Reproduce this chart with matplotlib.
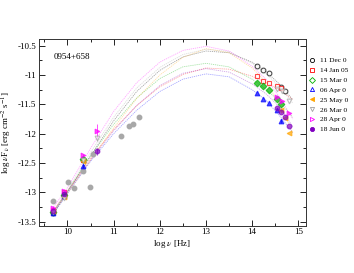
import matplotlib
matplotlib.use("Agg")
import matplotlib.pyplot as plt
from matplotlib.ticker import MultipleLocator

plt.rcParams['font.family'] = ['Liberation Serif', 'DejaVu Serif']
plt.rcParams['mathtext.fontset'] = 'stix'

# ---- data ----
# legend labels as visible in the reference (cut at the figure edge there)
labels = ["11 Dec 0", "14 Jan 05", "15 Mar 0", "06 Apr 0",
          "25 May 0", "26 Mar 0", "28 Apr 0", "18 Jun 0"]
colors = ["#000000", "#ff0000", "#00b000", "#0000ff",
          "#ffa500", "#a0a0a0", "#ff00ff", "#8000c0"]
markers = ["o", "s", "D", "^", "<", "v", ">", "o"]
fills = ["none", "none", "light", "full", "full", "none", "full", "full"]

obs_x = [
    [9.69, 9.92, 10.34, 14.11, 14.24, 14.36, 14.63, 14.71],
    [9.69, 9.92, 10.34, 14.11, 14.24, 14.36, 14.545, 14.63],
    [9.69, 9.92, 10.34, 14.11, 14.24, 14.36, 14.545, 14.63],
    [9.69, 9.92, 10.34, 14.11, 14.24, 14.36, 14.545, 14.63],
    [9.69, 9.92, 10.34, 14.63, 14.71, 14.80],
    [9.69, 9.92, 10.34, 10.63, 14.545, 14.64, 14.80],
    [9.69, 9.92, 10.34, 10.63, 14.545, 14.64, 14.79],
    [9.69, 9.92, 10.63, 14.545, 14.63, 14.71, 14.80],
]
obs_y = [
    [-13.36, -13.06, -12.44, -10.84, -10.915, -10.966, -11.20, -11.28],
    [-13.30, -13.00, -12.44, -11.01, -11.10, -11.13, -11.19, -11.22],
    [-13.33, -13.05, -12.43, -11.13, -11.19, -11.25, -11.41, -11.49],
    [-13.35, -13.06, -12.55, -11.31, -11.41, -11.48, -11.60, -11.78],
    [-13.32, -13.08, -12.46, -11.60, -11.74, -11.98],
    [-13.34, -13.10, -12.45, -12.08, -11.23, -11.27, -11.45],
    [-13.26, -12.98, -12.37, -11.96, -11.37, -11.45, -11.65],
    [-13.32, -13.02, -12.30, -11.56, -11.625, -11.71, -11.87],
]
obs_err = [
    [0.02, 0.02, 0.02, 0.0, 0.0, 0.0, 0.0, 0.0],
    [0.02, 0.02, 0.02, 0.0, 0.0, 0.0, 0.0, 0.0],
    [0.02, 0.02, 0.02, 0.0, 0.0, 0.0, 0.0, 0.0],
    [0.02, 0.02, 0.03, 0.0, 0.0, 0.0, 0.0, 0.03],
    [0.02, 0.02, 0.02, 0.04, 0.0, 0.0],
    [0.02, 0.02, 0.02, 0.04, 0.0, 0.0, 0.0],
    [0.03, 0.03, 0.03, 0.12, 0.0, 0.0, 0.0],
    [0.03, 0.03, 0.06, 0.0, 0.0, 0.0, 0.0],
]

# model curves
curve_x = [9.7, 10.0, 10.5, 11.0, 11.5, 12.0, 12.5, 13.0, 13.5, 14.0, 14.3, 14.6, 14.88]
curve_y = [
    [-13.36, -13.00, -12.38, -11.78, -11.28, -10.92, -10.69, -10.59, -10.62, -10.78, -10.94, -11.16, -11.42],
    [-13.30, -12.98, -12.42, -11.93, -11.52, -11.20, -10.99, -10.88, -10.90, -11.02, -11.13, -11.25, -11.42],
    [-13.32, -12.98, -12.38, -11.84, -11.39, -11.06, -10.86, -10.80, -10.86, -11.07, -11.24, -11.46, -11.72],
    [-13.36, -13.02, -12.47, -12.00, -11.60, -11.28, -11.07, -10.98, -11.03, -11.25, -11.43, -11.70, -11.98],
    [-13.33, -13.02, -12.45, -11.90, -11.40, -11.00, -10.70, -10.55, -10.62, -10.88, -11.12, -11.50, -11.98],
    [-13.34, -12.97, -12.32, -11.72, -11.22, -10.87, -10.65, -10.56, -10.60, -10.80, -10.98, -11.20, -11.48],
    [-13.25, -12.92, -12.25, -11.62, -11.13, -10.78, -10.58, -10.51, -10.59, -10.85, -11.07, -11.38, -11.75],
    [-13.33, -12.99, -12.45, -11.95, -11.52, -11.18, -10.97, -10.89, -10.95, -11.15, -11.32, -11.55, -11.88],
]

# archival points (grey)
arch_x = [9.68, 10.02, 10.145, 10.34, 10.49, 10.56, 11.16, 11.34, 11.43, 11.56]
arch_y = [-13.15, -12.83, -12.92, -12.64, -12.91, -12.35, -12.04, -11.875, -11.835, -11.71]

xticks = [10, 11, 12, 13, 14, 15]
yticks = [-10.5, -11, -11.5, -12, -12.5, -13, -13.5]

# ---- plot ----
fig = plt.figure(figsize=(3.54, 2.73), dpi=100)
ax = fig.add_axes([0.111, 0.1733, 0.7526, 0.6837])

for i in range(len(labels)):
    ax.plot(curve_x, curve_y[i], color=colors[i], lw=0.6, ls=(0, (1.5, 1.0)), alpha=0.35, zorder=1)

ax.plot(arch_x, arch_y, 'o', color='#a8a8a8', ms=3.2, mec='#a8a8a8', zorder=2)

handles = []
for i in range(len(labels)):
    c = colors[i]
    fc = 'white' if fills[i] == "none" else c
    ax.errorbar(obs_x[i], obs_y[i], yerr=obs_err[i], fmt='none', ecolor=c, elinewidth=0.7, alpha=0.7, zorder=3)
    ax.plot(obs_x[i], obs_y[i], ls='none', marker=markers[i], ms=3.4, mfc=fc, mec=c, mew=0.8, alpha=0.7, zorder=4)
    h, = ax.plot([], [], ls='none', marker=markers[i], ms=3.0, mfc=(c if i in (4, 7) else 'none'), mec=c, mew=0.6)
    handles.append(h)

ax.set_xlim(9.39, 15.16)
ax.set_ylim(-13.568, -10.386)
ax.set_xticks(xticks)
ax.set_xticklabels([str(v) for v in xticks])
ax.set_yticks(yticks)
ax.set_yticklabels([("%g" % v) for v in yticks])
ax.xaxis.set_minor_locator(MultipleLocator(0.5))
ax.yaxis.set_minor_locator(MultipleLocator(0.25))
ax.tick_params(which='both', direction='in', top=True, right=True, labelsize=6.5, width=0.6, pad=2)
ax.tick_params(which='major', length=4)
ax.tick_params(which='minor', length=2)
for s in ax.spines.values():
    s.set_linewidth(0.7)
    s.set_color('#333333')

ax.set_xlabel(r"log $\nu$ [Hz]", fontsize=6.5, labelpad=1)
ax.set_ylabel(r"log $\nu$F$_\nu$ [erg cm$^{-2}$ s$^{-1}$]", fontsize=6.5, labelpad=3)
ax.text(0.055, 0.905, "0954+658", transform=ax.transAxes, fontsize=6.5, va='center', ha='left')

fig.legend(handles, labels, loc='upper left', bbox_to_anchor=(0.874, 0.79), frameon=False,
           fontsize=5.3, handlelength=0.8, handletextpad=0.7, labelspacing=0.5, borderpad=0, borderaxespad=0)

fig.savefig("out.png", dpi=100)
